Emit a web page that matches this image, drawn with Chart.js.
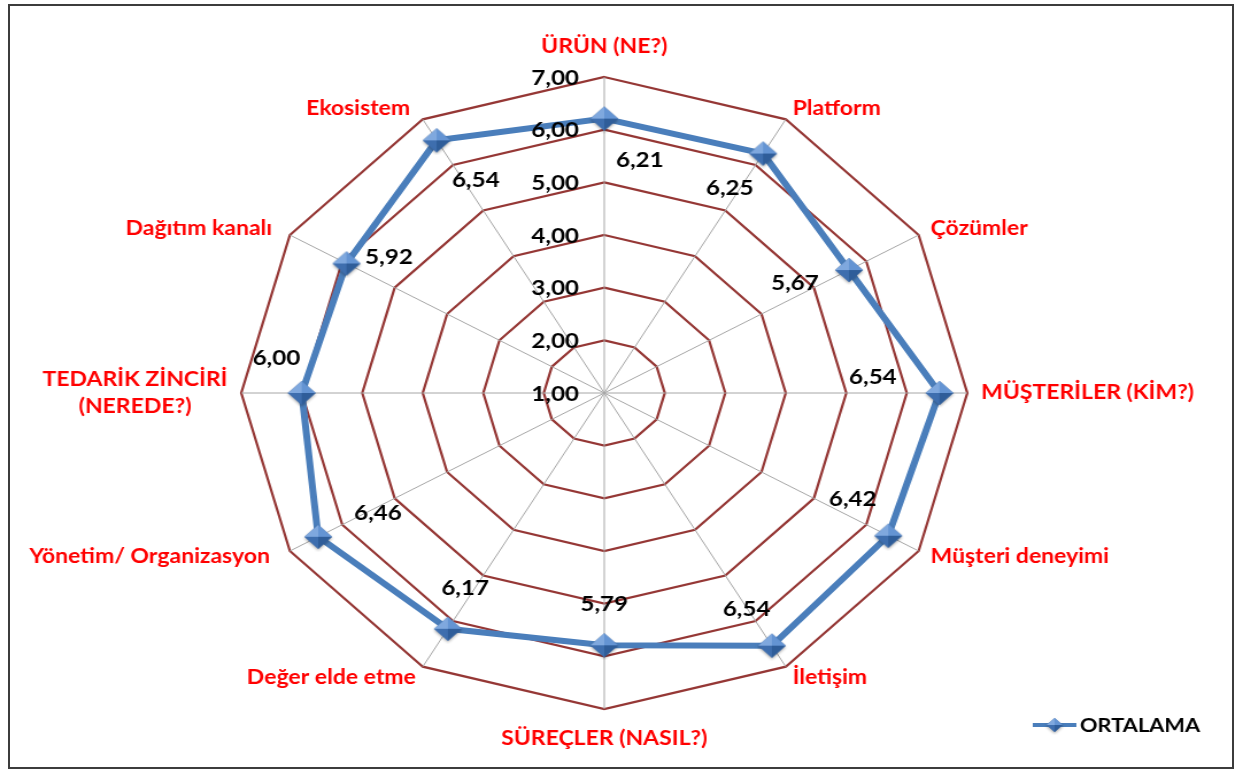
<!DOCTYPE html>
<html>
<head>
<meta charset="utf-8">
<script src="https://cdn.jsdelivr.net/npm/chart.js@4.4.1/dist/chart.umd.min.js"></script>
<style>
  body { margin: 0; background: #fff; }
  #frame {
    position: absolute; left: 8px; top: 4px; width: 1226px; height: 765px;
    box-sizing: border-box; border: 2px solid #3c3c3c;
  }
  #wrap {
    position: absolute; left: 0; top: 0; width: 1075px; height: 771px;
    transform: scaleX(1.1488); transform-origin: 0 0;
  }
</style>
</head>
<body>
<div id="frame"></div>
<div id="wrap"><canvas id="radar"></canvas></div>
<script>
// eksenler (saat yönünde, üstten başlayarak)
const kategoriler = [
  "ÜRÜN (NE?)", "Platform", "Çözümler", "MÜŞTERİLER (KİM?)", "Müşteri deneyimi",
  "İletişim", "SÜREÇLER (NASIL?)", "Değer elde etme", "Yönetim/ Organizasyon",
  ["TEDARİK ZİNCİRİ", "(NEREDE?)"], "Dağıtım kanalı", "Ekosistem"
];
const ortalama = [6.21, 6.25, 5.67, 6.54, 6.42, 6.54, 5.79, 6.17, 6.46, 6.00, 5.92, 6.54];
const olcekDegerleri = [1, 2, 3, 4, 5, 6, 7];
const seriAdi = "ORTALAMA";

// değer etiketlerinin noktaya göre kayması
const etiketDx = [31, -29, -47, -58, -31, -22, 0, 15, 52, -22, 37, 34];
const etiketDy = [42, 35, 13, -16, -36, -36, -41, -41, -24, -35, -6, 40];
// eksen adlarının ince ayarı
const eksenDx = [0, 0, 0, 0, 0, 0, 0, 0, -7, 0, -5, -5];

const MAVI = "#4a7ebb";
const FONT = "Lato";

function virgul(v) {
  return v.toFixed(2).replace(".", ",");
}

// kabartmalı eşkenar dörtgen işaretçi
function elmas(r) {
  const s = r * 2 + 6;
  const c = document.createElement("canvas");
  c.width = s; c.height = s;
  const g = c.getContext("2d");
  const m = s / 2;
  g.shadowColor = "rgba(0,0,0,0.35)";
  g.shadowBlur = 3;
  g.shadowOffsetY = 1.5;
  g.beginPath();
  g.moveTo(m, m - r); g.lineTo(m + r, m); g.lineTo(m, m + r); g.lineTo(m - r, m);
  g.closePath();
  g.fillStyle = "#3f6ead";
  g.fill();
  g.shadowColor = "transparent";
  function tri(ax, ay, bx, by, col) {
    g.beginPath(); g.moveTo(ax, ay); g.lineTo(bx, by); g.lineTo(m, m); g.closePath();
    g.fillStyle = col; g.fill();
  }
  tri(m, m - r, m - r, m, "#7fa8de");
  tri(m, m - r, m + r, m, "#6494d3");
  tri(m - r, m, m, m + r, "#3e6eae");
  tri(m + r, m, m, m + r, "#2f5d99");
  return c;
}

const isaret = elmas(12);
const kucukIsaret = elmas(7);

const yaziEklentisi = {
  id: "yazilar",
  afterDatasetsDraw(chart) {
    const ctx = chart.ctx;
    const r = chart.scales.r;
    ctx.save();

    // ölçek etiketleri
    ctx.font = "bold 21px " + FONT;
    ctx.fillStyle = "#000";
    ctx.textAlign = "right";
    ctx.textBaseline = "middle";
    olcekDegerleri.forEach(function (v) {
      const y = r.yCenter - r.getDistanceFromCenterForValue(v);
      ctx.fillText(virgul(v), r.xCenter - 22, y + 1);
    });

    // değer etiketleri
    ctx.textAlign = "center";
    const meta = chart.getDatasetMeta(0);
    meta.data.forEach(function (p, i) {
      ctx.fillText(virgul(ortalama[i]), p.x + etiketDx[i], p.y + etiketDy[i]);
    });

    // eksen adları
    ctx.fillStyle = "#ff0000";
    ctx.font = "bold 20px " + FONT;
    kategoriler.forEach(function (lab, i) {
      const lines = Array.isArray(lab) ? lab : [lab];
      const dikey = i === 0 || i === 6;
      const pos = r.getPointPosition(i, r.drawingArea + (dikey ? 30 : 12));
      let w = 0;
      lines.forEach(function (l) { w = Math.max(w, ctx.measureText(l).width); });
      let cx = pos.x + eksenDx[i];
      if (pos.x > r.xCenter + 2) cx += w / 2;
      else if (pos.x < r.xCenter - 2) cx -= w / 2;
      const lh = 27;
      const y0 = pos.y - (lines.length - 1) * lh / 2;
      ctx.textAlign = "center";
      lines.forEach(function (l, k) {
        ctx.fillText(l, cx, y0 + k * lh);
      });
    });

    // açıklama
    const lx = 899, ly = 725;
    ctx.strokeStyle = MAVI;
    ctx.lineWidth = 4;
    ctx.beginPath();
    ctx.moveTo(lx, ly); ctx.lineTo(lx + 38, ly);
    ctx.stroke();
    ctx.drawImage(kucukIsaret, lx + 19 - kucukIsaret.width / 2, ly - kucukIsaret.height / 2);
    ctx.fillStyle = "#000";
    ctx.font = "bold 19px " + FONT;
    ctx.textAlign = "left";
    ctx.fillText(seriAdi, lx + 41, ly + 1);

    ctx.restore();
  }
};

new Chart(document.getElementById("radar"), {
  type: "radar",
  data: {
    labels: kategoriler,
    datasets: [
      {
        label: seriAdi,
        data: ortalama,
        borderColor: MAVI,
        backgroundColor: MAVI,
        borderWidth: 6,
        fill: false,
        pointStyle: isaret,
        pointRadius: 12,
        tension: 0,
      },
    ],
  },
  options: {
    responsive: true,
    maintainAspectRatio: false,
    animation: false,
    layout: {
      padding: { top: 77, bottom: 62, left: 210, right: 233 },
    },
    plugins: {
      legend: { display: false },
      tooltip: { enabled: false },
    },
    scales: {
      r: {
        min: 1,
        max: 7,
        ticks: { stepSize: 1, display: false },
        pointLabels: { display: false },
        grid: { color: "#953735", lineWidth: 2.2 },
        angleLines: { color: "#a6a6a6", lineWidth: 1 },
      },
    },
  },
  plugins: [yaziEklentisi],
});
</script>
</body>
</html>
